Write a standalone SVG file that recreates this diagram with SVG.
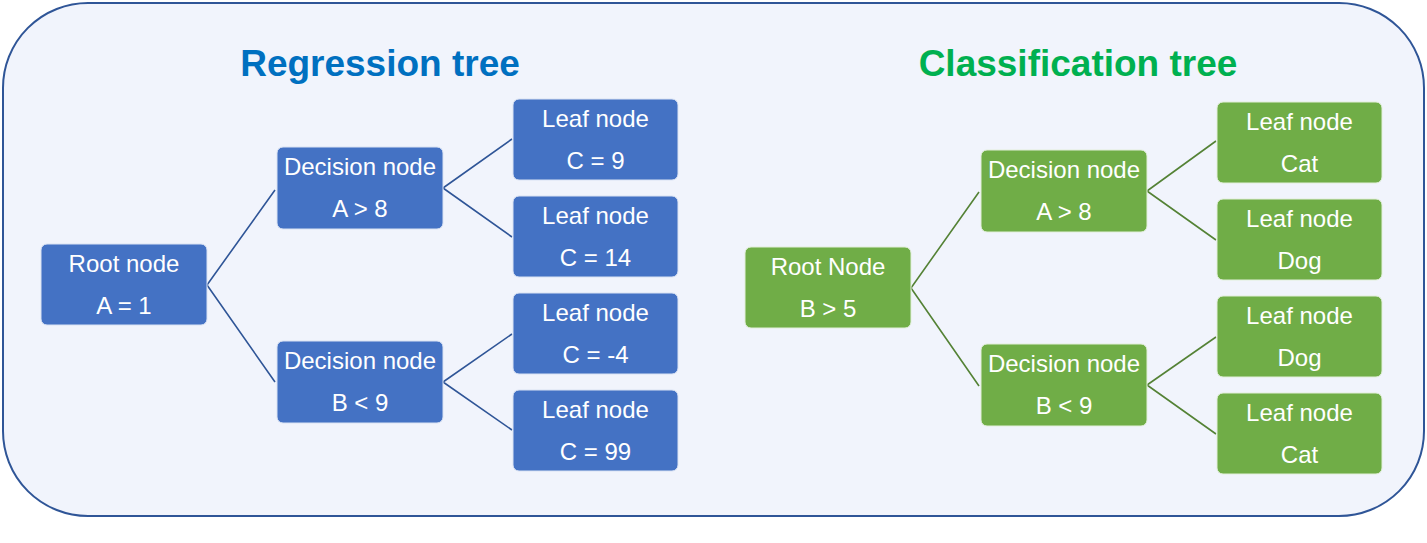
<svg xmlns="http://www.w3.org/2000/svg" width="1427" height="543" viewBox="0 0 1427 543">
<style>
.title{font-family:"Liberation Sans",Arial,sans-serif;font-weight:bold;font-size:37px;text-anchor:middle}
.nt{font-family:"Liberation Sans",Arial,sans-serif;font-size:24px;fill:#ffffff;text-anchor:middle}
.bn{fill:#4472C4;stroke:#D9E2F3;stroke-width:1}
.gn{fill:#70AD47;stroke:#E2EFDA;stroke-width:1}
.bl{stroke:#2F5597;stroke-width:1.6;fill:none}
.gl{stroke:#548235;stroke-width:1.6;fill:none}
</style>
<rect width="1427" height="543" fill="#ffffff"/>
<rect id="frame" x="3" y="3" width="1421" height="513" rx="85" ry="85" fill="#F1F4FC" stroke="#2F5597" stroke-width="2"/>
<text class="title" x="380" y="76" fill="#0070C0">Regression tree</text>
<text class="title" x="1078" y="76" fill="#00B050">Classification tree</text>
<g id="connectors">
<path class="bl" d="M207,285 L275,190 M207,285 L275,382 M443,188 L512,139 M443,188 L512,237 M443,382 L512,334 M443,382 L512,430"/>
<path class="gl" d="M911,288 L979,192 M911,288 L979,386 M1147,191 L1216,141 M1147,191 L1216,240 M1147,385 L1216,337 M1147,385 L1216,434"/>
</g>
<g id="r_root"><rect class="bn" x="41" y="244" width="166" height="81" rx="6"/><text class="nt" x="124" y="272">Root node</text><text class="nt" x="124" y="314">A = 1</text></g>
<g id="r_dec1"><rect class="bn" x="277" y="147" width="166" height="82" rx="6"/><text class="nt" x="360" y="175">Decision node</text><text class="nt" x="360" y="217">A &gt; 8</text></g>
<g id="r_dec2"><rect class="bn" x="277" y="341" width="166" height="82" rx="6"/><text class="nt" x="360" y="369">Decision node</text><text class="nt" x="360" y="411">B &lt; 9</text></g>
<g id="r_leaf1"><rect class="bn" x="513" y="99" width="165" height="81" rx="6"/><text class="nt" x="595.5" y="127">Leaf node</text><text class="nt" x="595.5" y="169">C = 9</text></g>
<g id="r_leaf2"><rect class="bn" x="513" y="196" width="165" height="81" rx="6"/><text class="nt" x="595.5" y="224">Leaf node</text><text class="nt" x="595.5" y="266">C = 14</text></g>
<g id="r_leaf3"><rect class="bn" x="513" y="293" width="165" height="81" rx="6"/><text class="nt" x="595.5" y="321">Leaf node</text><text class="nt" x="595.5" y="363">C = -4</text></g>
<g id="r_leaf4"><rect class="bn" x="513" y="390" width="165" height="81" rx="6"/><text class="nt" x="595.5" y="418">Leaf node</text><text class="nt" x="595.5" y="460">C = 99</text></g>
<g id="c_root"><rect class="gn" x="745" y="247" width="166" height="81" rx="6"/><text class="nt" x="828" y="275">Root Node</text><text class="nt" x="828" y="317">B &gt; 5</text></g>
<g id="c_dec1"><rect class="gn" x="981" y="150" width="166" height="82" rx="6"/><text class="nt" x="1064" y="178">Decision node</text><text class="nt" x="1064" y="220">A &gt; 8</text></g>
<g id="c_dec2"><rect class="gn" x="981" y="344" width="166" height="82" rx="6"/><text class="nt" x="1064" y="372">Decision node</text><text class="nt" x="1064" y="414">B &lt; 9</text></g>
<g id="c_leaf1"><rect class="gn" x="1217" y="102" width="165" height="81" rx="6"/><text class="nt" x="1299.5" y="130">Leaf node</text><text class="nt" x="1299.5" y="172">Cat</text></g>
<g id="c_leaf2"><rect class="gn" x="1217" y="199" width="165" height="81" rx="6"/><text class="nt" x="1299.5" y="227">Leaf node</text><text class="nt" x="1299.5" y="269">Dog</text></g>
<g id="c_leaf3"><rect class="gn" x="1217" y="296" width="165" height="81" rx="6"/><text class="nt" x="1299.5" y="324">Leaf node</text><text class="nt" x="1299.5" y="366">Dog</text></g>
<g id="c_leaf4"><rect class="gn" x="1217" y="393" width="165" height="81" rx="6"/><text class="nt" x="1299.5" y="421">Leaf node</text><text class="nt" x="1299.5" y="463">Cat</text></g>
</svg>
